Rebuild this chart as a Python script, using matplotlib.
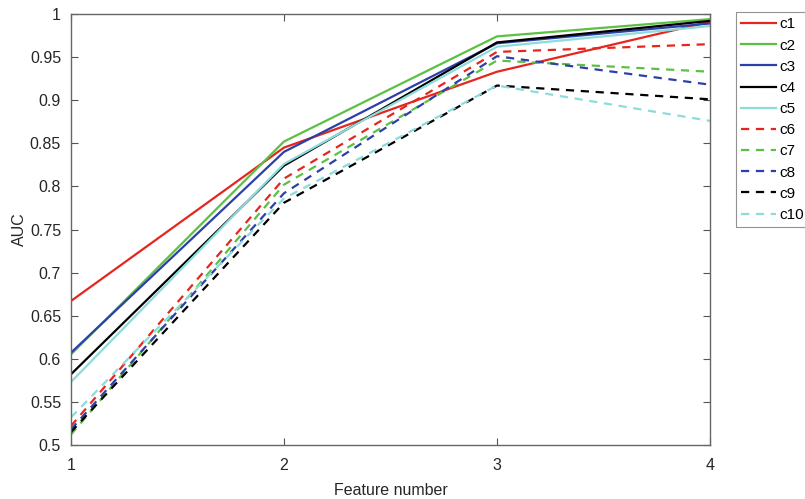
import matplotlib
matplotlib.use("Agg")
import matplotlib.pyplot as plt

plt.rcParams['font.family'] = ['Liberation Sans', 'DejaVu Sans']

features = [1, 2, 3, 4]
names = ['c1', 'c2', 'c3', 'c4', 'c5', 'c6', 'c7', 'c8', 'c9', 'c10']

# AUC per classifier
c1 = [0.667, 0.845, 0.933, 0.991]
c2 = [0.605, 0.852, 0.974, 0.994]
c3 = [0.607, 0.840, 0.966, 0.989]
c4 = [0.582, 0.824, 0.967, 0.992]
c5 = [0.573, 0.826, 0.962, 0.986]
c6 = [0.522, 0.809, 0.956, 0.965]
c7 = [0.512, 0.802, 0.946, 0.933]
c8 = [0.518, 0.792, 0.951, 0.918]
c9 = [0.515, 0.781, 0.917, 0.901]
c10 = [0.532, 0.786, 0.917, 0.876]
series = [c1, c2, c3, c4, c5, c6, c7, c8, c9, c10]

red = '#e5261e'
green = '#5cc045'
blue = '#2d3fa8'
black = '#000000'
cyan = '#8cdcdc'
colors = [red, green, blue, black, cyan] * 2

fig = plt.figure(figsize=(8.05, 4.99), dpi=100)
ax = fig.add_axes([0.088, 0.108, 0.794, 0.864])

for i, (name, vals) in enumerate(zip(names, series)):
    if i < 5:
        ax.plot(features, vals, color=colors[i], lw=1.6, label=name)
    else:
        ax.plot(features, vals, color=colors[i], lw=1.6, dashes=(3.7, 3.0), label=name)

ax.set_xlim(1, 4)
ax.set_ylim(0.5, 1)
ax.set_xticks([1, 2, 3, 4])
ax.set_yticks([0.5, 0.55, 0.6, 0.65, 0.7, 0.75, 0.8, 0.85, 0.9, 0.95, 1])
ax.set_yticklabels(['0.5', '0.55', '0.6', '0.65', '0.7', '0.75', '0.8', '0.85', '0.9', '0.95', '1'])
ax.tick_params(direction='in', top=True, right=True, length=5, width=0.8,
               labelsize=11.5, color='#555555', labelcolor='#262626')
ax.tick_params(axis='x', pad=9.5)
ax.tick_params(axis='y', pad=7)
for s in ax.spines.values():
    s.set_color('#666666')
    s.set_linewidth(1.0)
ax.set_xlabel('Feature number', fontsize=11.5, color='#262626', labelpad=7)
ax.set_ylabel('AUC', fontsize=11.5, color='#262626', labelpad=2)

leg = ax.legend(loc='upper left', bbox_to_anchor=(0.914, 0.976), bbox_transform=fig.transFigure,
                fontsize=11, frameon=True, fancybox=False, handlelength=2.3,
                handletextpad=0.2, labelspacing=0.47, borderpad=0.35, borderaxespad=0)
leg.get_frame().set_edgecolor('#777777')
leg.get_frame().set_linewidth(0.8)

fig.savefig('out.png', dpi=100)
